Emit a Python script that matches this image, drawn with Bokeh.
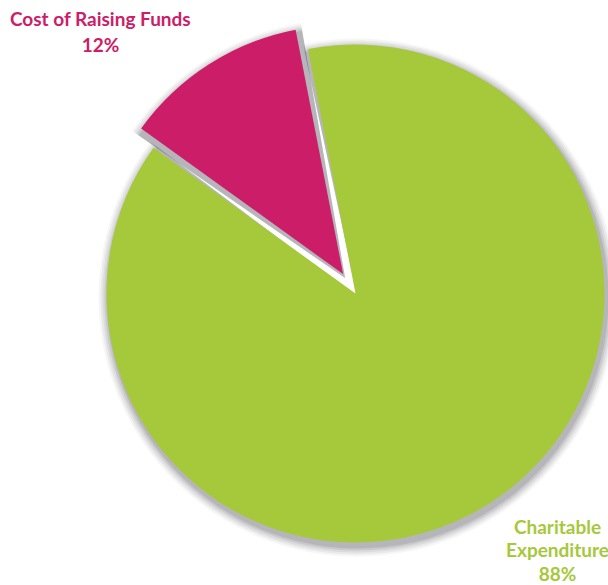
import math
from bokeh.plotting import figure
from bokeh.models import Range1d
from bokeh.core.properties import value
from bokeh.embed import file_html
from bokeh.resources import INLINE

categories = ["Cost of Raising Funds", "Charitable Expenditure"]
percent = [12, 88]
colors = ["#CC1D68", "#A6C83B"]

W, H = 608, 585
p = figure(width=W, height=H, output_backend="svg", toolbar_location=None,
           x_range=Range1d(0, 608), y_range=Range1d(-585, 0), min_border=0)
p.axis.visible = False
p.grid.visible = False
p.outline_line_color = None
p.background_fill_color = "white"
p.border_fill_color = "white"

cx, cy, R = 355, -293, 249
start_deg = 101.0
explode = [23, 0]

total = sum(percent)
angles = []
a = math.radians(start_deg)
for v in percent:
    b = a + 2 * math.pi * v / total
    angles.append((a, b))
    a = b

centers = []
for (a0, a1), ex in zip(angles, explode):
    mid = (a0 + a1) / 2
    centers.append((cx + ex * math.cos(mid), cy + ex * math.sin(mid)))

# soft shadow
for (a0, a1), (x, y) in zip(angles, centers):
    for k, al in [(10, 0.05), (8, 0.07), (6, 0.09), (4, 0.12), (2, 0.15)]:
        p.wedge(x=x + 2, y=y - 4, radius=R + k, start_angle=a0 - 0.02, end_angle=a1 + 0.02,
                fill_color="#4a4a58", fill_alpha=al, line_color=None)

for (a0, a1), (x, y), c in zip(angles, centers, colors):
    p.wedge(x=x, y=y, radius=R, start_angle=a0, end_angle=a1,
            fill_color=c, line_color=None)

font = value("Lato")
# labels
p.text(x=[100, 100], y=[-18, -44], text=[categories[0], f"{percent[0]}%"],
       text_color=colors[0], text_font=font, text_font_style="bold",
       text_font_size="19px", text_align="center", text_baseline="alphabetic")
words = categories[1].split(" ")
p.text(x=[557, 557, 557], y=[-526, -549, -573], text=[words[0], words[1], f"{percent[1]}%"],
       text_color=colors[1], text_font=font, text_font_style="bold",
       text_font_size="19px", text_align="center", text_baseline="alphabetic")

open("out.html", "w").write(file_html(p, INLINE))
